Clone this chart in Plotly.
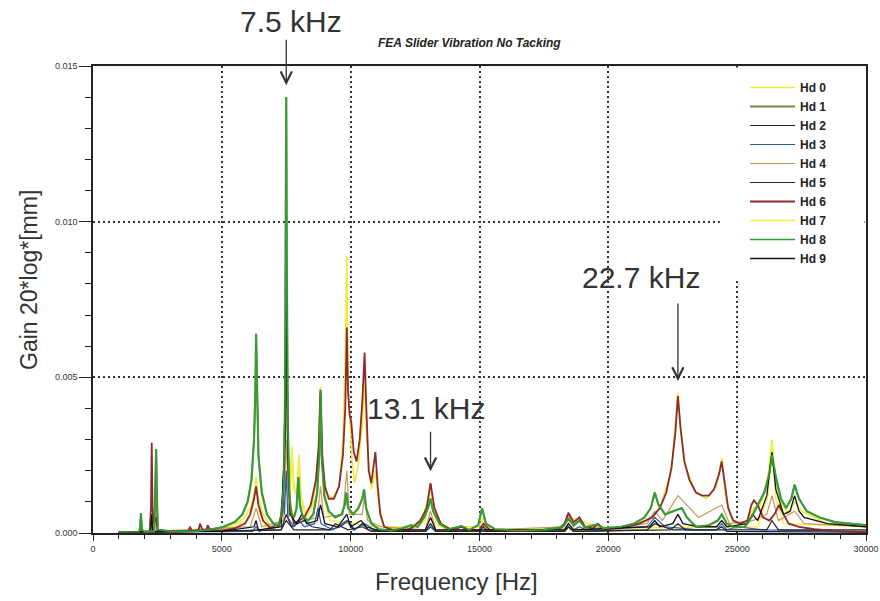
import plotly.graph_objects as go

# ---- Frequency response of the slider, one trace per head (Hd 0 .. Hd 9) ----
# frequencies in Hz, gains in mm

FREQ_GREEN = [1000, 1780, 1820, 1860, 1900, 2000, 2380, 2410, 2450, 2490, 2520, 3000, 4000, 4500,
              5000, 5500, 5800, 6000, 6150, 6250, 6300, 6330, 6360, 6420, 6550, 6750, 7000, 7200,
              7320, 7400, 7450, 7480, 7500, 7520, 7560, 7620, 7700, 7800, 7900, 7970, 8030, 8150,
              8350, 8550, 8700, 8780, 8830, 8880, 8980, 9150, 9400, 9650, 9770, 9830, 9900, 10100,
              10300, 10450, 10520, 10600, 10800, 11100, 11600, 12000, 12350, 12600, 12850, 13000,
              13100, 13200, 13450, 13800, 14300, 14600, 14950, 15100, 15250, 15600, 16500, 17500,
              18200, 18450, 18650, 18880, 19100, 19600, 19800, 20500, 21000, 21400, 21650, 21800,
              21950, 22200, 22550, 22850, 23050, 23400, 23900, 24250, 24400, 24600, 24900, 25300,
              25550, 25800, 26050, 26250, 26350, 26500, 26700, 26900, 27100, 27230, 27400, 27700,
              28200, 28800, 29400, 30000]
GAIN_GREEN = [0.00003, 0.00004, 0.0001, 0.00064, 0.0001, 0.00004, 0.00006, 0.0012, 0.0027, 0.0008,
              0.0001, 0.00005, 0.00006, 0.0001, 0.00018, 0.00035, 0.0006, 0.001, 0.0017, 0.003,
              0.0045, 0.0064, 0.0045, 0.0025, 0.0013, 0.0006, 0.0003, 0.00025, 0.0006, 0.0016,
              0.004, 0.009, 0.0140, 0.009, 0.0035, 0.0012, 0.0006, 0.0005, 0.0008, 0.0018, 0.0009,
              0.0005, 0.0004, 0.0006, 0.0013, 0.0025, 0.0046, 0.0024, 0.0012, 0.0007, 0.0005,
              0.0006, 0.0009, 0.0013, 0.0008, 0.0006, 0.0008, 0.0011, 0.0014, 0.0008, 0.0003,
              0.00012, 0.00008, 0.00015, 0.00025, 0.0002, 0.0005, 0.0008, 0.0011, 0.0007, 0.0003,
              0.00012, 0.00022, 0.0001, 0.00025, 0.0008, 0.0003, 0.00012, 0.00008, 0.0001,
              0.00018, 0.00045, 0.00025, 0.0004, 0.00018, 0.00028, 0.00015, 0.0002, 0.0003,
              0.0005, 0.0008, 0.0013, 0.0009, 0.0006, 0.0007, 0.0008, 0.0005, 0.0002, 0.00025,
              0.0004, 0.0006, 0.0003, 0.00018, 0.0002, 0.0005, 0.0009, 0.0013, 0.0019, 0.0025,
              0.0018, 0.0011, 0.0008, 0.0011, 0.00155, 0.0011, 0.0007, 0.0005, 0.00035, 0.0003,
              0.00025]

FREQ_RED = [1000, 2200, 2250, 2280, 2310, 2360, 2450, 2500, 3000, 3700, 3760, 3850, 4100, 4150,
            4250, 4400, 4450, 4550, 5000, 5500, 5900, 6100, 6250, 6330, 6420, 6600, 6900, 7200,
            7350, 7430, 7470, 7500, 7530, 7580, 7650, 7800, 8000, 8200, 8450, 8650, 8760, 8830,
            8900, 9000, 9150, 9350, 9550, 9700, 9790, 9850, 9900, 9960, 10020, 10120, 10230,
            10350, 10450, 10540, 10600, 10700, 10800, 10900, 10960, 11050, 11150, 11300, 11700,
            12200, 12400, 12700, 12950, 13100, 13250, 13500, 13900, 14300, 14600, 15000, 15150,
            15400, 16500, 17500, 18100, 18300, 18450, 18650, 18880, 19100, 19400, 19600, 19800,
            20500, 21200, 21700, 22000, 22250, 22450, 22600, 22700, 22800, 22950, 23150, 23400,
            23650, 23900, 24100, 24300, 24400, 24500, 24650, 24850, 25100, 25400, 25550, 25650,
            25800, 26000, 26250, 26450, 26620, 26800, 27000, 27400, 28000, 29000, 30000]
GAIN_RED = [0.00002, 0.00005, 0.0008, 0.0029, 0.0008, 0.0003, 0.0005, 0.0001, 0.00004, 0.00006,
            0.0002, 0.00005, 0.0001, 0.0003, 0.0001, 0.00008, 0.00025, 0.00008, 0.00008, 0.00015,
            0.0003, 0.0006, 0.0011, 0.0015, 0.0009, 0.0004, 0.00015, 0.0002, 0.0007, 0.0025,
            0.005, 0.0083, 0.005, 0.002, 0.0008, 0.0003, 0.0004, 0.0005, 0.0009, 0.0017, 0.0028,
            0.0045, 0.0025, 0.0015, 0.0011, 0.0011, 0.0015, 0.0025, 0.004, 0.0066, 0.0045,
            0.0038, 0.0036, 0.0026, 0.0023, 0.003, 0.0042, 0.0058, 0.0042, 0.002, 0.0016, 0.0022,
            0.0026, 0.0015, 0.0006, 0.0002, 0.00008, 0.0001, 0.00018, 0.0004, 0.0008, 0.0016,
            0.0008, 0.0003, 0.0001, 0.0002, 0.00008, 0.0001, 0.0003, 0.0001, 0.00006, 0.0001,
            0.00015, 0.0003, 0.00065, 0.00035, 0.0005, 0.0002, 0.00015, 0.0003, 0.00012, 0.00015,
            0.0003, 0.0005, 0.0008, 0.0013, 0.0021, 0.0032, 0.0044, 0.0034, 0.0023, 0.0017,
            0.0013, 0.0012, 0.0012, 0.0014, 0.0019, 0.0023, 0.0017, 0.0008, 0.0004, 0.0003,
            0.0004, 0.0009, 0.00105, 0.0009, 0.0005, 0.0004, 0.0006, 0.0009, 0.0006, 0.0003,
            0.0002, 0.00012, 0.00005, 0.00003]

FREQ_YELLOW = [1000, 2200, 2280, 2330, 2450, 2520, 3000, 4000, 4500, 5000, 5500, 5900, 6150,
               6280, 6330, 6400, 6600, 6900, 7200, 7350, 7450, 7500, 7550, 7620, 7720, 7800,
               7900, 7990, 8080, 8250, 8500, 8700, 8830, 8900, 9050, 9300, 9550, 9700, 9800,
               9850, 9900, 9970, 10050, 10150, 10300, 10450, 10540, 10620, 10800, 10960, 11100,
               11300, 12000, 12400, 12800, 13000, 13100, 13200, 13500, 14000, 14300, 15000,
               15150, 15400, 17000, 18200, 18450, 18880, 19600, 20500, 21500, 22000, 22450,
               22700, 22800, 23000, 23400, 23800, 24200, 24400, 24550, 24800, 25300, 25650,
               25900, 26150, 26350, 26500, 26750, 27000, 27230, 27500, 28500, 30000]
GAIN_YELLOW = [0.00003, 0.00005, 0.0012, 0.0003, 0.0009, 0.0001, 0.00005, 0.00008, 0.0001,
               0.00015, 0.00025, 0.0005, 0.0009, 0.0014, 0.0018, 0.0012, 0.0006, 0.0002, 0.0002,
               0.0007, 0.003, 0.0075, 0.003, 0.0012, 0.0027, 0.0015, 0.0012, 0.0025, 0.0012,
               0.0006, 0.0009, 0.0018, 0.0047, 0.0022, 0.0013, 0.0011, 0.0015, 0.003, 0.006,
               0.0089, 0.0048, 0.0036, 0.0024, 0.0016, 0.0022, 0.0035, 0.005, 0.003, 0.0014,
               0.002, 0.0009, 0.0002, 0.0001, 0.0002, 0.0005, 0.0011, 0.0016, 0.0009, 0.0003,
               0.0001, 0.0002, 0.0002, 0.0005, 0.0001, 0.0001, 0.0002, 0.0005, 0.0004, 0.0002,
               0.00015, 0.0004, 0.0008, 0.002, 0.0045, 0.0033, 0.0021, 0.0013, 0.0011, 0.0015,
               0.0024, 0.0012, 0.0004, 0.0003, 0.0008, 0.0009, 0.0015, 0.003, 0.0016, 0.0009,
               0.0006, 0.001, 0.0007, 0.0003, 0.0002]

FREQ_YELLOW2 = [1000, 5000, 6000, 6200, 6330, 6450, 6700, 7300, 7400, 7500, 7600, 7680, 7720,
                7780, 7950, 7990, 8050, 8300, 8700, 8830, 8950, 9200, 11000, 12600, 12900,
                13100, 13300, 13700, 25800, 26200, 26350, 26500, 26800, 30000]
GAIN_YELLOW2 = [0.00002, 0.0001, 0.0004, 0.0008, 0.0016, 0.0007, 0.0002, 0.0003, 0.0008,
                0.006, 0.0012, 0.0016, 0.0028, 0.0014, 0.0012, 0.0022, 0.001, 0.0005, 0.0012,
                0.0044, 0.0012, 0.0004, 0.0002, 0.0002, 0.0004, 0.0015, 0.0003, 0.0001,
                0.0002, 0.0012, 0.0029, 0.0011, 0.0003, 0.0002]

FREQ_BLACK = [1000, 2240, 2280, 2320, 5000, 6250, 6330, 6420, 7300, 7450, 7500, 7550, 7650,
              7900, 8100, 8300, 8700, 8830, 9000, 9500, 9850, 10000, 10400, 10600, 11000, 12900,
              13100, 13300, 18300, 18450, 18650, 21600, 21800, 22000, 22500, 22700, 22900,
              23500, 24200, 24400, 24600, 25400, 25600, 25800, 26150, 26350, 26500, 26800,
              27050, 27230, 27400, 27600, 28500, 30000]
GAIN_BLACK = [0.00002, 0.00005, 0.0006, 0.00005, 0.00005, 0.0002, 0.0004, 0.0001, 0.0002, 0.003,
              0.0083, 0.003, 0.0006, 0.0003, 0.0006, 0.0003, 0.0004, 0.0009, 0.0003, 0.0002,
              0.0006, 0.0002, 0.0004, 0.0002, 0.0001, 0.0001, 0.0005, 0.0001, 0.0001, 0.0003,
              0.0001, 0.0002, 0.0004, 0.0002, 0.0003, 0.0006, 0.0003, 0.0002, 0.0002, 0.0004,
              0.0002, 0.0003, 0.0006, 0.0004, 0.0012, 0.0026, 0.0014, 0.0006, 0.0007, 0.0012,
              0.0007, 0.0005, 0.0003, 0.0002]

FREQ_BLUE = [1000, 6200, 6330, 6450, 7250, 7370, 7430, 7500, 7560, 7800, 8000, 8200, 8600, 8730,
             8850, 9300, 9850, 10100, 10550, 11000, 12900, 13100, 13300, 18300, 18450, 18650,
             18880, 19100, 21500, 21800, 22200, 23500, 24200, 24400, 24600, 25000, 26000, 30000]
GAIN_BLUE = [0.00002, 0.00005, 0.0002, 0.00005, 0.0003, 0.0013, 0.0006, 0.002, 0.0005, 0.0002,
             0.0004, 0.0002, 0.0003, 0.0008, 0.0003, 0.0001, 0.0004, 0.0001, 0.0003, 0.00005,
             0.00005, 0.0002, 0.00005, 0.0001, 0.0003, 0.0001, 0.0002, 0.0001, 0.0002, 0.0005,
             0.0002, 0.0001, 0.0001, 0.0003, 0.0001, 0.0002, 0.0001, 0.00005]

FREQ_NAVY = [1000, 7300, 7500, 7700, 8200, 8500, 9200, 9600, 9900, 10150, 10450, 10700, 12900,
             13100, 13300, 18300, 18450, 18650, 21500, 21800, 22500, 24200, 24400, 24600, 30000]
GAIN_NAVY = [0.00001, 0.0001, 0.0006, 0.0002, 0.0004, 0.0002, 0.0001, 0.0002, 0.0004, 0.0001,
             0.0003, 0.0001, 0.00005, 0.0002, 0.00005, 0.00005, 0.0002, 0.00005, 0.0001, 0.0003,
             0.0001, 0.0001, 0.0002, 0.00005, 0.00003]

FREQ_BLACK2 = [1000, 7300, 7500, 7800, 9200, 9400, 9900, 10450, 10800, 12900, 13100, 13300,
               15000, 15150, 15300, 18300, 18450, 18650, 22400, 22700, 23000, 26150, 26350,
               26600, 30000]
GAIN_BLACK2 = [0.00001, 0.0001, 0.0004, 0.0001, 0.0001, 0.0003, 0.0001, 0.0002, 0.00005,
               0.00005, 0.0003, 0.00005, 0.00005, 0.0002, 0.00005, 0.00005, 0.0002, 0.00005,
               0.0001, 0.0003, 0.0001, 0.0001, 0.0004, 0.0001, 0.0001]

FREQ_TAN = [1000, 2240, 2280, 2320, 6100, 6330, 6550, 7400, 7500, 7600, 7700, 7800, 8700, 8830,
            8950, 9700, 9850, 9950, 10450, 10540, 10650, 11200, 12900, 13100, 13300, 15000,
            15150, 15300, 18300, 18450, 18650, 18880, 19100, 19600, 19800, 21500, 21800, 22100,
            22700, 23500, 24400, 24700, 25600, 26150, 26350, 26600, 27230, 27600, 30000]
GAIN_TAN = [0.00002, 0.00005, 0.0004, 0.00005, 0.0002, 0.0008, 0.0002, 0.0004, 0.003, 0.0005,
            0.0008, 0.0003, 0.0005, 0.0015, 0.0005, 0.0006, 0.002, 0.0006, 0.0006, 0.0012,
            0.0004, 0.0002, 0.0001, 0.0007, 0.0001, 0.0001, 0.0003, 0.0001, 0.0002, 0.0006,
            0.0002, 0.0004, 0.0001, 0.0002, 0.0001, 0.0003, 0.0007, 0.0004, 0.0012, 0.0005,
            0.0009, 0.0003, 0.0004, 0.0006, 0.0012, 0.0004, 0.0007, 0.0003, 0.0002]

HEADS = ["Hd 0", "Hd 1", "Hd 2", "Hd 3", "Hd 4", "Hd 5", "Hd 6", "Hd 7", "Hd 8", "Hd 9"]
COLORS = ["#ecea3c", "#6d8f3c", "#1c1c4a", "#2a5aa8", "#c8955a",
          "#262626", "#8c2a2e", "#f2ef46", "#2f9f37", "#111111"]
WIDTHS = [1.6, 2.2, 1.2, 1.2, 1.2, 1.2, 1.8, 1.4, 1.6, 1.3]
SERIES = {
    "Hd 0": (FREQ_YELLOW, GAIN_YELLOW),
    "Hd 1": (FREQ_GREEN, GAIN_GREEN),
    "Hd 2": (FREQ_NAVY, GAIN_NAVY),
    "Hd 3": (FREQ_BLUE, GAIN_BLUE),
    "Hd 4": (FREQ_TAN, GAIN_TAN),
    "Hd 5": (FREQ_BLACK2, GAIN_BLACK2),
    "Hd 6": (FREQ_RED, GAIN_RED),
    "Hd 7": (FREQ_YELLOW2, GAIN_YELLOW2),
    "Hd 8": (FREQ_GREEN, GAIN_GREEN),
    "Hd 9": (FREQ_BLACK, GAIN_BLACK),
}
# stacking order on the plot (legend order is kept by legendrank)
DRAW_ORDER = ["Hd 0", "Hd 7", "Hd 4", "Hd 2", "Hd 3", "Hd 5", "Hd 1", "Hd 6", "Hd 9", "Hd 8"]

PEAKS_KHZ = [7.5, 13.1, 22.7]

FONT = "Liberation Sans, Arial, sans-serif"

fig = go.Figure()
for name in DRAW_ORDER:
    i = HEADS.index(name)
    f, g = SERIES[name]
    fig.add_trace(go.Scatter(
        x=f, y=g, mode="lines", name=name, legendrank=i + 1,
        line=dict(color=COLORS[i], width=WIDTHS[i]),
    ))

# peak markers: arrow pointing at the highest trace value at each labelled frequency
label_shift = {7.5: (5, 76), 13.1: (-5, 75), 22.7: (-37, 115)}
arrow_len = {7.5: -59, 13.1: -53, 22.7: -91}
for khz in PEAKS_KHZ:
    hz = khz * 1000
    best = 0.0
    for name in HEADS:
        f, g = SERIES[name]
        for fx, gy in zip(f, g):
            if abs(fx - hz) < 1 and gy > best:
                best = gy
    fig.add_annotation(x=hz, y=best, xref="x", yref="y", text="", showarrow=True,
                       ax=0, ay=arrow_len[khz], axref="pixel", ayref="pixel",
                       arrowhead=5, arrowsize=1.7, arrowwidth=1.3, arrowcolor="#333333",
                       standoff=12)
    dx, dy = label_shift[khz]
    fig.add_annotation(x=hz, y=best, xref="x", yref="y", text=f"{khz:.1f} kHz",
                       showarrow=False, xshift=dx, yshift=dy,
                       font=dict(family=FONT, size=30, color="#333333"))

# chart title and axis titles
fig.add_annotation(x=0.4877, y=1.049, xref="paper", yref="paper", xanchor="center",
                   yanchor="middle", text="<b><i>FEA Slider Vibration No Tacking</i></b>",
                   showarrow=False, font=dict(family=FONT, size=12, color="#222222"))
fig.add_annotation(x=-0.0828, y=0.5418, xref="paper", yref="paper", xanchor="center",
                   yanchor="middle", text="Gain 20*log*[mm]", textangle=-90, showarrow=False,
                   font=dict(family=FONT, size=23, color="#333333"))
fig.add_annotation(x=0.4696, y=-0.1028, xref="paper", yref="paper", xanchor="center",
                   yanchor="middle", text="Frequency [Hz]", showarrow=False,
                   font=dict(family=FONT, size=24, color="#333333"))

# white panel behind the legend
fig.add_shape(type="rect", xref="paper", yref="paper", x0=0.811, x1=0.998, y0=0.546, y1=0.997,
              fillcolor="white", line=dict(width=0), layer="above")

axis_common = dict(
    showline=True, linecolor="#222222", linewidth=1.5, mirror=True, automargin=False,
    showgrid=True, gridcolor="#333333", gridwidth=1.6, griddash="2px,3px",
    zeroline=False, ticks="outside", tickcolor="#222222",
    tickfont=dict(family=FONT, size=9, color="#333333"),
)
fig.update_xaxes(range=[0, 30000], tick0=0, dtick=5000, tickformat="d", ticklen=6,
                 minor=dict(dtick=1000, ticks="outside", ticklen=4, tickcolor="#222222",
                            showgrid=False),
                 **axis_common)
fig.update_yaxes(range=[0, 0.015], tick0=0, dtick=0.005, tickformat=".3f", ticklen=12,
                 minor=dict(dtick=0.001, ticks="outside", ticklen=6, tickcolor="#222222",
                            showgrid=False),
                 **axis_common)

fig.update_layout(
    width=880, height=601,
    margin=dict(l=93, r=14, t=66, b=68),
    paper_bgcolor="white", plot_bgcolor="white",
    showlegend=True,
    legend=dict(x=0.8435, y=0.985, xanchor="left", yanchor="top", bgcolor="white",
                borderwidth=0, itemwidth=45,
                font=dict(family=FONT, size=12, color="#222222", weight="bold"),
                tracegroupgap=0),
)

fig.write_html("out.html")
